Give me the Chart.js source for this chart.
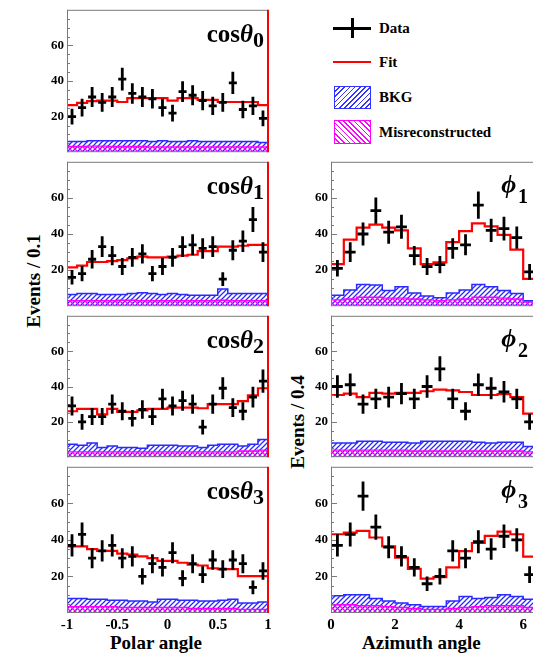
<!DOCTYPE html>
<html>
<head>
<meta charset="utf-8">
<title>Angular distributions</title>
<script src="https://cdn.jsdelivr.net/npm/chart.js@4.4.1/dist/chart.umd.min.js"></script>
<style>
  html, body { margin: 0; padding: 0; background: #fff; overflow: hidden; }
  #fig { position: relative; width: 533px; height: 653px; overflow: hidden;
         font-family: "Liberation Serif", "Times New Roman", serif; font-weight: bold; color: #000; }
  #fig canvas { position: absolute; }
  .txt { position: absolute; white-space: nowrap; }
  .leg { font-size: 15px; line-height: 16px; }
  .title { font-size: 19px; line-height: 19px; }
  .ytitle { font-size: 19px; line-height: 19px; transform: translate(-50%, -50%) rotate(-90deg); }
  .plab { font-size: 25px; line-height: 25px; }
  .plab i { font-style: italic; }
  .plab .s { position: relative; font-size: 22px; }
  .box { position: absolute; box-sizing: border-box; }
</style>
</head>
<body>
<div id="fig">
  <!-- legend -->
  <div class="box" style="left:333px;top:27px;width:38px;height:3px;background:#000"></div>
  <div class="box" style="left:351px;top:18px;width:3px;height:20px;background:#000"></div>
  <div class="txt leg" style="left:379px;top:20px">Data</div>
  <div class="box" style="left:333px;top:61px;width:38px;height:2px;background:#f00"></div>
  <div class="txt leg" style="left:379px;top:54px">Fit</div>
  <div class="box" style="left:334px;top:86px;width:37px;height:23px;border:1px solid #33f;
       background:repeating-linear-gradient(135deg,#fff 0 2.5px,#33f 2.5px 3.7px)"></div>
  <div class="txt leg" style="left:379px;top:89px">BKG</div>
  <div class="box" style="left:334px;top:120px;width:37px;height:24px;border:1px solid #f0f;
       background:repeating-linear-gradient(45deg,#fff 0 2.5px,#f0f 2.5px 3.7px)"></div>
  <div class="txt leg" style="left:379px;top:124px">Misreconstructed</div>

  <!-- axis titles -->
  <div class="txt title" style="left:110px;top:633px">Polar angle</div>
  <div class="txt title" style="left:362px;top:633px">Azimuth angle</div>
  <div class="txt ytitle" style="left:33px;top:281px">Events / 0.1</div>
  <div class="txt ytitle" style="left:297px;top:422px">Events / 0.4</div>
</div>

<script>
// binning
const cosLo = -1, cosHi = 1, cosBins = 20;
const phiLo = 0, phiHi = 6.4, phiBins = 16;

const polarTicks = [-1, -0.5, 0, 0.5, 1];
const azimTicks = [0, 2, 4, 6];
const yTicks = [20, 40, 60];

// cos theta_0
const cos0Data = [20, 25, 31, 28, 31, 41, 33, 31, 30, 25, 22, 34, 32, 29, 26, 28, 39, 24, 26, 19];
const cos0Fit  = [26.4, 27.7, 28.7, 29, 29, 28.2, 30.4, 30.4, 30.4, 30.4, 29, 30.4, 30.4, 29.4, 29.4, 28.2, 28.2, 28.2, 28.2, 26.4];
const cos0Bkg  = [6, 6, 6.5, 6.5, 6.5, 6.5, 6.5, 6.5, 6, 6.5, 6, 6, 6.5, 6, 6, 6, 6, 6, 6, 5.5];
const cos0Mis  = [3.2, 3.2, 3.4, 3.4, 3.2, 3.2, 3.2, 3.2, 3, 3, 3, 3, 3, 3, 3, 3, 3, 3, 3, 3];

// cos theta_1
const cos1Data = [16, 18, 26, 33, 28, 22, 27, 29, 18, 22, 27, 33, 34, 32, 33, 15, 31, 36, 48, 30];
const cos1Fit  = [21.5, 22.5, 24.5, 24.5, 25, 25.5, 26.5, 27.5, 27, 27, 27.5, 28, 28.5, 30.5, 30.5, 33, 33, 33.5, 34, 34];
const cos1Bkg  = [6.5, 7, 7, 6.5, 6.5, 6.5, 7, 7.5, 7, 6.5, 7, 6.5, 6, 6, 6, 9.5, 7, 7, 7, 7];
const cos1Mis  = [3, 3, 3, 3, 3, 3.3, 3.3, 3, 3, 3, 3, 3, 3, 3, 3, 3.3, 3, 3, 3, 3];

// cos theta_2
const cos2Data = [29, 20, 23, 23, 30, 26, 22, 27, 23, 33, 29, 32, 30, 17, 30, 39, 28, 26, 34, 43];
const cos2Fit  = [26, 27.3, 27.3, 24.2, 27.3, 25.6, 25.6, 26.5, 27.3, 27.3, 28, 28, 28, 27.7, 30, 30, 30, 31.7, 35, 39];
const cos2Bkg  = [7.3, 6.7, 8, 5.5, 6.4, 5.5, 5.5, 5, 6.7, 6.7, 6.7, 6.4, 6.4, 5.5, 6.7, 7.3, 7.3, 6.4, 7.3, 10];
const cos2Mis  = [3, 3, 3, 3, 3, 3, 3, 3, 3, 3, 3, 3, 3, 3, 3, 3, 3, 3.5, 3.5, 4];

// cos theta_3
const cos3Data = [37, 43, 30, 34, 37, 30, 31, 20, 27, 25, 33, 19, 27, 21, 29, 24, 29, 27, 14, 23];
const cos3Fit  = [36.5, 36.5, 35, 34, 34, 32.5, 32, 31, 30, 28.5, 28.5, 27.5, 26.5, 26, 24.5, 24, 24, 20.2, 20.2, 20.2];
const cos3Bkg  = [8, 8, 7.5, 7.5, 7, 7, 6.5, 6.5, 6, 7.5, 7.5, 7, 7, 6.5, 6.5, 7, 7.5, 5.5, 5.5, 6];
const cos3Mis  = [3.5, 3.5, 3.5, 3.5, 3.5, 3, 3, 3, 3, 3, 3, 3, 2.5, 2.5, 2.5, 2.5, 2.5, 2, 2, 2];

// phi_1
const phi1Data = [21, 30, 40, 53, 41, 44, 28, 22, 23, 32, 34, 56, 42, 43, 38, 19];
const phi1Fit  = [23.3, 36.9, 43.5, 45.2, 43.5, 42, 32, 23.3, 24.3, 35.5, 41.6, 45.9, 44.2, 39.5, 31.3, 15.1];
const phi1Bkg  = [6.1, 9, 12, 11.7, 8.7, 10.8, 7.3, 5.6, 4.7, 7.3, 9, 12, 10.8, 8.7, 7, 3];
const phi1Mis  = [3.5, 4, 5, 5, 4.5, 4.5, 4, 3.5, 3, 3.5, 4, 5, 5, 4.5, 4, 2.5];

// phi_2
const phi2Data = [40, 41, 30, 33, 34, 36, 33, 40, 50, 33, 26, 41, 39, 37, 33, 20];
const phi2Fit  = [35.2, 36, 34, 36.4, 36, 36.4, 36.4, 37.3, 38.2, 37.8, 36.9, 35.2, 35.2, 35.7, 34, 24.7];
const phi2Bkg  = [8, 8, 9, 9, 8.5, 8.5, 8, 9, 9, 9, 9, 8.5, 8, 8.5, 8.5, 6];
const phi2Mis  = [4, 4, 4, 4, 4, 4, 3.5, 3.5, 3.5, 3.5, 3.5, 3.5, 3.5, 3.5, 3.5, 3];

// phi_3
const phi3Data = [37, 43, 64, 47, 36, 31, 25, 16, 20, 34, 30, 39, 35, 42, 40, 21];
const phi3Fit  = [43.1, 44, 44.9, 41.3, 36.5, 30.3, 24.1, 18.8, 19.6, 25, 33.9, 38.3, 42.2, 44.5, 43.1, 30.8];
const phi3Bkg  = [9.5, 10, 10, 8, 6.5, 5.5, 4.5, 3.5, 3.5, 6.5, 9, 8, 8.5, 10, 9, 7.5];
const phi3Mis  = [4.5, 4.5, 4, 4, 3.5, 3, 2.5, 2, 2, 2.5, 3, 3.5, 4, 4, 4, 3];

const COLS = {
  L: { left: 0, width: 276, axisW: 67, padR: 8, lo: cosLo, hi: cosHi, bins: cosBins, xTicks: polarTicks, redEdge: true },
  R: { left: 280, width: 262, axisW: 51, padR: 6, lo: phiLo, hi: phiHi, bins: phiBins, xTicks: azimTicks, redEdge: false }
};

const panels = [
  { col: 'L', top: 5,   bottom: 157, name: 'cos', sub: '0', data: cos0Data, fit: cos0Fit, bkg: cos0Bkg, mis: cos0Mis },
  { col: 'L', top: 157, bottom: 311, name: 'cos', sub: '1', data: cos1Data, fit: cos1Fit, bkg: cos1Bkg, mis: cos1Mis },
  { col: 'L', top: 311, bottom: 462, name: 'cos', sub: '2', data: cos2Data, fit: cos2Fit, bkg: cos2Bkg, mis: cos2Mis },
  { col: 'L', top: 462, bottom: 613, name: 'cos', sub: '3', data: cos3Data, fit: cos3Fit, bkg: cos3Bkg, mis: cos3Mis, axis: true },
  { col: 'R', top: 157, bottom: 311, name: 'phi', sub: '1', data: phi1Data, fit: phi1Fit, bkg: phi1Bkg, mis: phi1Mis },
  { col: 'R', top: 311, bottom: 462, name: 'phi', sub: '2', data: phi2Data, fit: phi2Fit, bkg: phi2Bkg, mis: phi2Mis },
  { col: 'R', top: 462, bottom: 613, name: 'phi', sub: '3', data: phi3Data, fit: phi3Fit, bkg: phi3Bkg, mis: phi3Mis, axis: true }
];

function hatch(color, up) {
  const s = 5;
  const c = document.createElement('canvas');
  c.width = s; c.height = s;
  const g = c.getContext('2d');
  g.strokeStyle = color;
  g.lineWidth = 1.25;
  g.beginPath();
  if (up) {
    g.moveTo(0, s); g.lineTo(s, 0);
    g.moveTo(-1, 1); g.lineTo(1, -1);
    g.moveTo(s - 1, s + 1); g.lineTo(s + 1, s - 1);
  } else {
    g.moveTo(0, 0); g.lineTo(s, s);
    g.moveTo(-1, s - 1); g.lineTo(1, s + 1);
    g.moveTo(s - 1, -1); g.lineTo(s + 1, 1);
  }
  g.stroke();
  return g.createPattern(c, 'repeat');
}
const bluePat = hatch('#2a2aff', true);
const magPat = hatch('#ff00ff', false);

// step outline: value i holds from edge i to edge i+1
function hist(lo, w, vals) {
  const pts = vals.map((v, i) => ({ x: lo + i * w, y: v }));
  pts.push({ x: lo + vals.length * w, y: vals[vals.length - 1] });
  return pts;
}

// frame, inner ticks and data crosses (drawn through the chart scales)
const panelDeco = {
  id: 'panelDeco',
  afterDatasetsDraw(chart, args, o) {
    const { ctx, chartArea: a, scales: { x, y } } = chart;
    ctx.save();
    ctx.strokeStyle = '#7a7a7a';
    ctx.lineWidth = 1;
    ctx.beginPath();
    ctx.moveTo(a.left + 0.5, a.top); ctx.lineTo(a.left + 0.5, a.bottom);
    ctx.moveTo(a.left, a.top + 0.5); ctx.lineTo(a.right, a.top + 0.5);
    ctx.moveTo(a.left, a.bottom - 0.5); ctx.lineTo(a.right, a.bottom - 0.5);
    for (let v = 5; v < 80; v += 5) {
      const py = Math.round(y.getPixelForValue(v)) + 0.5;
      ctx.moveTo(a.left, py);
      ctx.lineTo(a.left + (v % 20 ? 3 : 6), py);
    }
    ctx.stroke();

    if (o.redEdge) {
      ctx.strokeStyle = '#ff0000';
      ctx.lineWidth = 2;
      ctx.beginPath();
      ctx.moveTo(a.right, a.top); ctx.lineTo(a.right, a.bottom);
      ctx.stroke();
    }

    const ds = chart.data.datasets[0];
    const half = (x.getPixelForValue(o.binW) - x.getPixelForValue(0)) / 2;
    ctx.strokeStyle = '#000';
    ctx.lineWidth = 2.8;
    ctx.beginPath();
    ds.data.forEach(p => {
      const px = x.getPixelForValue(p.x);
      const py = y.getPixelForValue(p.y);
      const e = Math.sqrt(p.y);
      ctx.moveTo(px - half + 1, py); ctx.lineTo(px + half - 1, py);
      ctx.moveTo(px, y.getPixelForValue(p.y + e)); ctx.lineTo(px, y.getPixelForValue(p.y - e));
    });
    ctx.stroke();
    ctx.restore();
  }
};

const fig = document.getElementById('fig');
const font = { family: '"Liberation Serif", "Times New Roman", serif', weight: 'bold' };

function addPanel(p) {
  const c = COLS[p.col];
  const w = (c.hi - c.lo) / c.bins;
  const padTop = 6, padBottom = 6;
  const xH = p.axis ? 24 : 0;
  const h = (p.bottom - p.top) + padTop + padBottom + xH;

  const cv = document.createElement('canvas');
  cv.width = c.width; cv.height = h;
  cv.style.left = c.left + 'px';
  cv.style.top = (p.top - padTop) + 'px';
  cv.style.width = c.width + 'px';
  cv.style.height = h + 'px';
  fig.appendChild(cv);

  const centers = p.data.map((v, i) => ({ x: c.lo + (i + 0.5) * w, y: v }));

  new Chart(cv, {
    type: 'line',
    data: {
      datasets: [
        { label: 'Data', data: centers, showLine: false, pointRadius: 0, order: 0 },
        { label: 'Fit', data: hist(c.lo, w, p.fit), stepped: true, borderColor: '#ff0000',
          borderWidth: 2.2, pointRadius: 0, fill: false, order: 1 },
        { label: 'Misreconstructed', data: hist(c.lo, w, p.mis), stepped: true, borderColor: '#ff00ff',
          borderWidth: 1.4, backgroundColor: magPat, fill: 'origin', pointRadius: 0, order: 2 },
        { label: 'BKG', data: hist(c.lo, w, p.bkg), stepped: true, borderColor: '#2a2aff',
          borderWidth: 1.5, backgroundColor: bluePat, fill: 'origin', pointRadius: 0, order: 3 }
      ]
    },
    options: {
      responsive: false,
      animation: false,
      devicePixelRatio: 1,
      events: [],
      layout: { padding: { left: 0, right: c.padR, top: padTop, bottom: padBottom } },
      plugins: {
        legend: { display: false },
        tooltip: { enabled: false },
        panelDeco: { redEdge: c.redEdge, binW: w }
      },
      scales: {
        x: {
          type: 'linear',
          display: !!p.axis,
          min: c.lo, max: c.hi,
          grid: { display: false, drawTicks: false },
          border: { display: false },
          afterBuildTicks: s => { s.ticks = c.xTicks.map(v => ({ value: v })); },
          afterFit: s => { s.height = xH; },
          ticks: {
            autoSkip: false, maxRotation: 0, padding: 3, color: '#000',
            font: Object.assign({ size: 15 }, font),
            callback: v => String(v)
          }
        },
        y: {
          min: 0, max: 80,
          grid: { display: false, drawTicks: false },
          border: { display: false },
          afterBuildTicks: s => { s.ticks = yTicks.map(v => ({ value: v })); },
          afterFit: s => { s.width = c.axisW; },
          ticks: {
            padding: 3, color: '#000',
            font: Object.assign({ size: 13 }, font),
            callback: v => String(v)
          }
        }
      }
    },
    plugins: [panelDeco]
  });

  // panel label
  const lab = document.createElement('div');
  lab.className = 'txt plab';
  if (p.name === 'cos') {
    lab.style.right = (533 - 264) + 'px';
    lab.style.top = (p.top + 16) + 'px';
    lab.innerHTML = 'cos<i>θ</i><span class="s" style="top:5px">' + p.sub + '</span>';
  } else {
    lab.style.right = '5px';
    lab.style.top = (p.top + 15) + 'px';
    lab.innerHTML = '<i style="font-size:26px">ϕ</i><span class="s" style="top:10px;font-size:20px">&#8202;' + p.sub + '</span>';
  }
  fig.appendChild(lab);
}

panels.forEach(addPanel);
</script>
</body>
</html>
